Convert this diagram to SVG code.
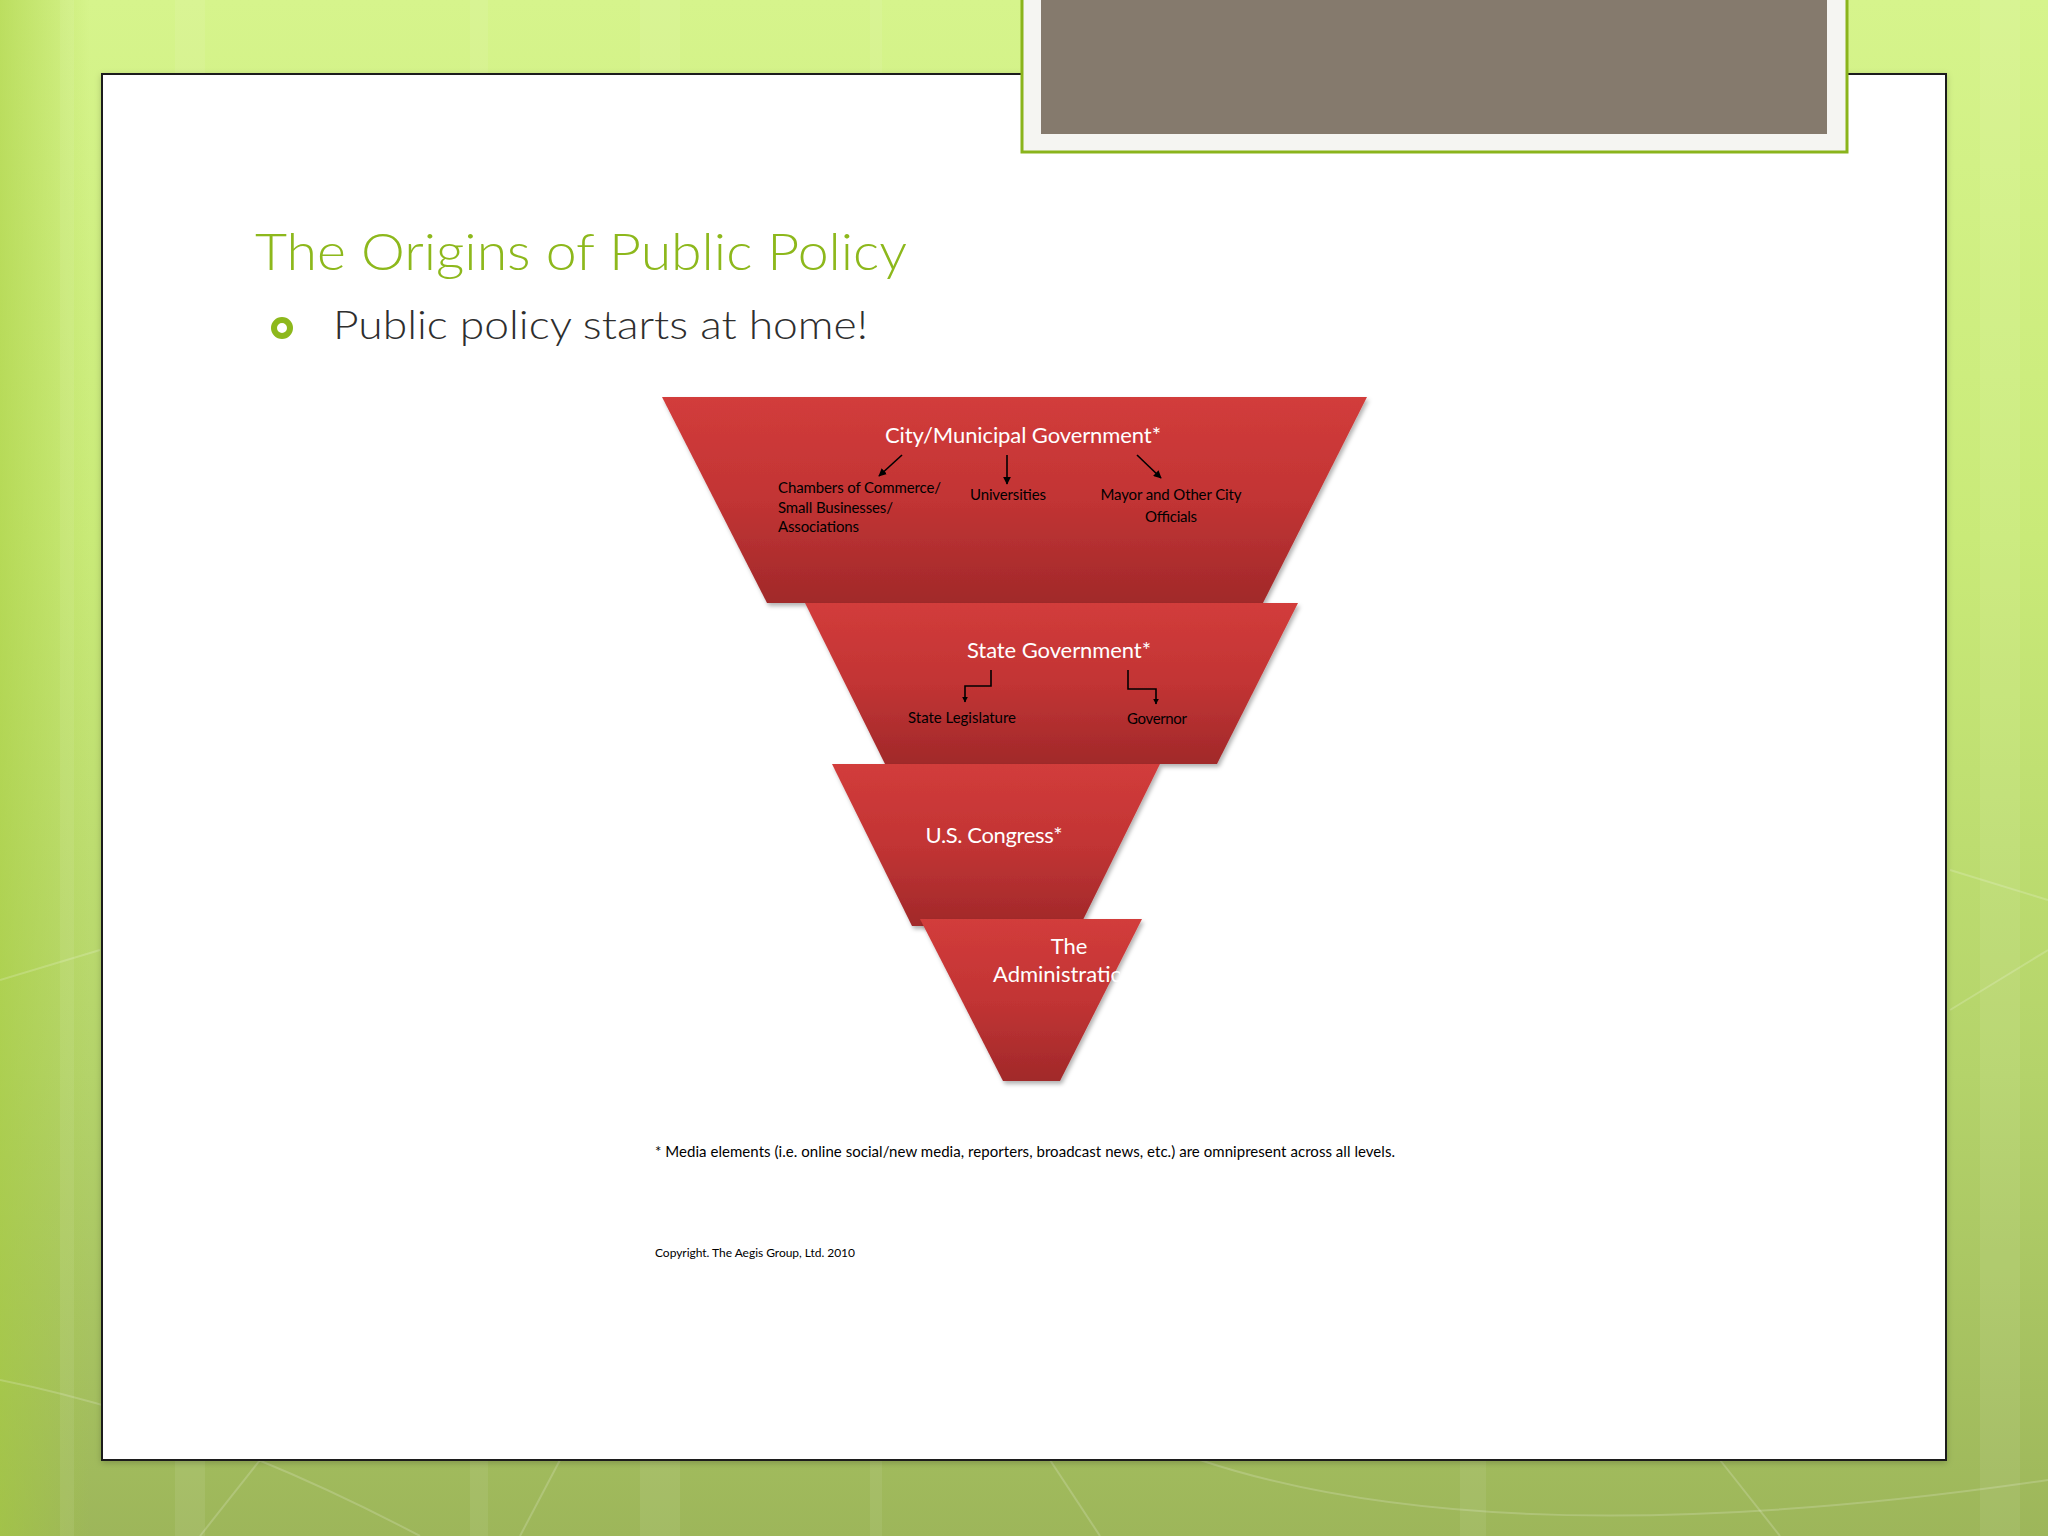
<svg xmlns="http://www.w3.org/2000/svg" width="2048" height="1536" viewBox="0 0 2048 1536">
  <defs>
    <linearGradient id="bgV" x1="0" y1="0" x2="0" y2="1">
      <stop offset="0" stop-color="#d6f48c"/>
      <stop offset="0.35" stop-color="#c9ea78"/>
      <stop offset="0.7" stop-color="#b4d36a"/>
      <stop offset="1" stop-color="#9db65a"/>
    </linearGradient>
    <linearGradient id="bgL" x1="0" y1="0" x2="1" y2="0">
      <stop offset="0" stop-color="#a6cc3c" stop-opacity="0.55"/>
      <stop offset="1" stop-color="#a6cc3c" stop-opacity="0"/>
    </linearGradient>
    <linearGradient id="red" x1="0" y1="0" x2="0" y2="1">
      <stop offset="0" stop-color="#d23c3b"/>
      <stop offset="0.5" stop-color="#c23434"/>
      <stop offset="1" stop-color="#a1292a"/>
    </linearGradient>
    <filter id="shadow" x="-10%" y="-10%" width="120%" height="130%">
      <feDropShadow dx="2" dy="3" stdDeviation="2" flood-color="#000" flood-opacity="0.3"/>
    </filter>
    <filter id="soft" x="-5%" y="-5%" width="110%" height="110%">
      <feDropShadow dx="0" dy="2" stdDeviation="3" flood-color="#000" flood-opacity="0.2"/>
    </filter>
    <marker id="arr" viewBox="0 0 10 10" refX="9" refY="5" markerWidth="6" markerHeight="6" orient="auto" markerUnits="userSpaceOnUse">
      <path d="M0,0 L10,5 L0,10 z" fill="#000"/>
    </marker>
    <marker id="arr2" viewBox="0 0 10 10" refX="9" refY="5" markerWidth="8" markerHeight="8" orient="auto" markerUnits="userSpaceOnUse">
      <path d="M0,0 L10,5 L0,10 z" fill="#000"/>
    </marker>
    <clipPath id="clipAdmin">
      <rect x="900" y="900" width="220" height="200"/>
    </clipPath>
    <style>
      .big { font-family: Lato, "Liberation Sans", sans-serif; font-size: 22px; fill: #ffffff; }
      .small { font-family: Lato, "Liberation Sans", sans-serif; font-size: 15px; fill: #000000; }
      .note { font-family: Lato, "Liberation Sans", sans-serif; fill: #000000; }
      .layer { fill: url(#red); filter: url(#shadow); }
      .conn { stroke: #000; stroke-width: 1.6; fill: none; }
    </style>
  </defs>

  <!-- background -->
  <rect x="0" y="0" width="2048" height="1536" fill="url(#bgV)"/>
  <rect x="0" y="0" width="90" height="1536" fill="url(#bgL)"/>
  <g fill="#ffffff" opacity="0.07">
    <rect x="60" y="0" width="14" height="1536"/>
    <rect x="175" y="0" width="30" height="1536"/>
    <rect x="470" y="0" width="18" height="1536"/>
    <rect x="640" y="0" width="40" height="1536"/>
    <rect x="870" y="0" width="12" height="1536"/>
    <rect x="1980" y="0" width="40" height="1536"/>
    <rect x="1460" y="0" width="26" height="1536"/>
  </g>
  <g stroke="#ffffff" stroke-opacity="0.18" stroke-width="2" fill="none">
    <path d="M0,1380 Q200,1420 420,1536"/>
    <path d="M1200,1460 Q1500,1560 2048,1480"/>
    <path d="M260,1460 L200,1536"/>
    <path d="M560,1460 L520,1536"/>
    <path d="M1050,1460 L1100,1536"/>
    <path d="M1720,1460 L1780,1536"/>
    <path d="M0,980 L100,950"/>
    <path d="M1950,870 L2048,900"/>
    <path d="M1950,1010 L2048,950"/>
  </g>

  <!-- slide panel -->
  <rect x="102" y="74" width="1844" height="1386" fill="#ffffff" stroke="#1a1a1a" stroke-width="2" filter="url(#soft)"/>

  <!-- picture frame at top -->
  <g id="photo-frame">
    <rect x="1022" y="-4" width="825" height="156" fill="#f5f5f2" stroke="#8ab41c" stroke-width="3"/>
    <rect x="1041" y="0" width="786" height="134" fill="#857a6d"/>
  </g>

  <!-- title -->
  <text x="255" y="270" font-family="Lato, 'Liberation Sans', sans-serif" font-weight="300" font-size="52" fill="#8db81c" textLength="652" lengthAdjust="spacingAndGlyphs">The Origins of Public Policy</text>
  <circle cx="282" cy="328" r="8" fill="none" stroke="#8db81c" stroke-width="6"/>
  <text x="333" y="339" font-family="Lato, 'Liberation Sans', sans-serif" font-weight="300" font-size="39" fill="#2e2e2e" textLength="535" lengthAdjust="spacingAndGlyphs">Public policy starts at home!</text>

  <!-- funnel layers -->
  <g id="layer-city">
    <polygon class="layer" points="662,397 1367,397 1263,603 767,603"/>
    <text class="big" x="1023" y="443" text-anchor="middle" textLength="276">City/Municipal Government*</text>
    <text class="small" x="778" y="493" textLength="163">Chambers of Commerce/</text>
    <text class="small" x="778" y="513" textLength="115">Small Businesses/</text>
    <text class="small" x="778" y="532" textLength="81">Associations</text>
    <text class="small" x="1008" y="500" text-anchor="middle" textLength="76">Universities</text>
    <text class="small" x="1171" y="500" text-anchor="middle" textLength="141">Mayor and Other City</text>
    <text class="small" x="1171" y="522" text-anchor="middle" textLength="52">Officials</text>
  </g>
  <g id="layer-state">
    <polygon class="layer" points="805,603 1298,603 1217,764 885,764"/>
    <text class="big" x="1059" y="658" text-anchor="middle" textLength="184">State Government*</text>
    <text class="small" x="962" y="723" text-anchor="middle" textLength="108">State Legislature</text>
    <text class="small" x="1157" y="724" text-anchor="middle" textLength="60">Governor</text>
  </g>
  <g id="layer-congress">
    <polygon class="layer" points="832,764 1160,764 1080,926 912,926"/>
    <text class="big" x="994" y="843" text-anchor="middle" textLength="137">U.S. Congress*</text>
  </g>
  <g id="layer-admin">
    <polygon class="layer" points="920,919 1142,919 1060,1081 1003,1081"/>
    <text class="big" x="1069" y="954" text-anchor="middle">The</text>
    <text class="big" x="993" y="982" clip-path="url(#clipAdmin)">Administration</text>
  </g>

  <!-- connectors -->
  <g id="connectors">
    <line class="conn" x1="902" y1="455" x2="879" y2="476" marker-end="url(#arr2)"/>
    <line class="conn" x1="1007" y1="455" x2="1007" y2="484" marker-end="url(#arr2)"/>
    <line class="conn" x1="1137" y1="455" x2="1161" y2="478" marker-end="url(#arr2)"/>
    <polyline class="conn" points="991,670 991,686 965,686 965,702" marker-end="url(#arr)"/>
    <polyline class="conn" points="1128,670 1128,689 1156,689 1156,704" marker-end="url(#arr)"/>
  </g>

  <!-- notes -->
  <text class="note" x="655" y="1157" font-size="15" textLength="740">* Media elements (i.e. online social/new media, reporters, broadcast news, etc.) are omnipresent across all levels.</text>
  <text class="note" x="655" y="1257" font-size="12" textLength="200">Copyright. The Aegis Group, Ltd. 2010</text>
</svg>
